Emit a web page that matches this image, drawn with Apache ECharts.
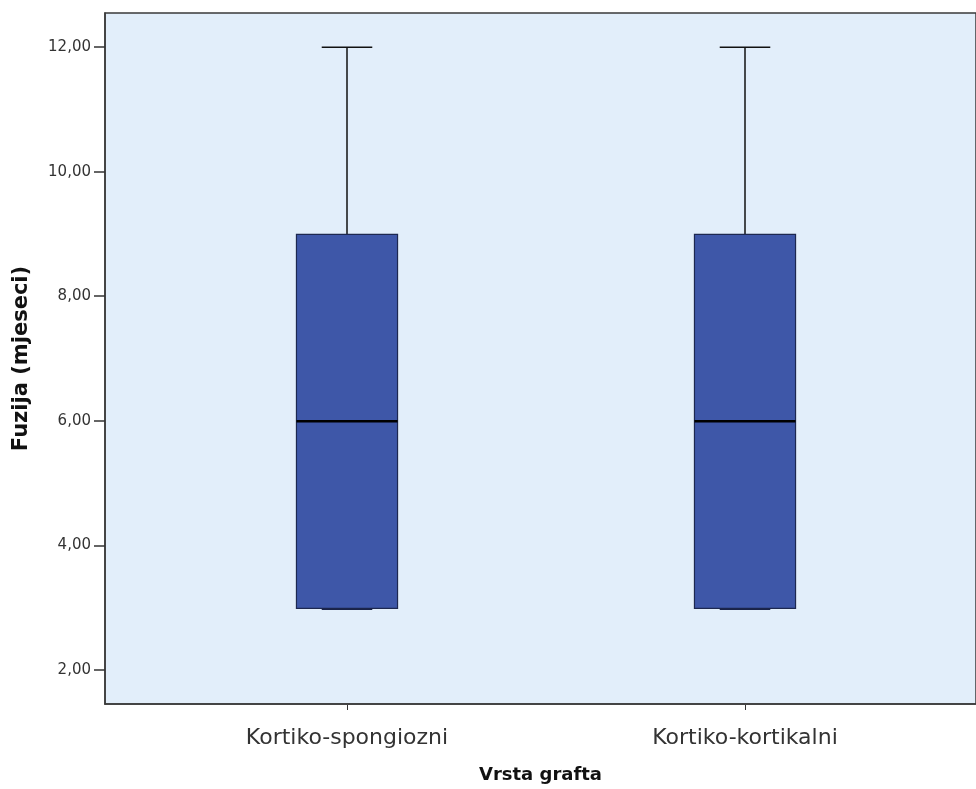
<!DOCTYPE html>
<html>
<head>
<meta charset="utf-8">
<script src="https://cdn.jsdelivr.net/npm/echarts@6/dist/echarts.min.js"></script>
<style>html,body{margin:0;padding:0;background:#fff}#c{width:976px;height:789px}</style>
</head>
<body>
<div id="c"></div>
<script>
var categories = ['Kortiko-spongiozni', 'Kortiko-kortikalni'];
// [min, Q1, median, Q3, max]
var boxStats = [
  [3, 3, 6, 9, 12],
  [3, 3, 6, 9, 12]
];
var yTicks = [2, 4, 6, 8, 10, 12];
var yMin = 1.45, yMax = 12.55;

var seriesData = boxStats.map(function (s, i) { return [i].concat(s); });

function renderBox(params, api) {
  var x = api.value(0);
  var pMin = api.coord([x, api.value(1)]);
  var pQ1 = api.coord([x, api.value(2)]);
  var pMed = api.coord([x, api.value(3)]);
  var pQ3 = api.coord([x, api.value(4)]);
  var pMax = api.coord([x, api.value(5)]);
  var band = api.size([1, 0])[0];
  var bw = band * 0.254;
  var cw = bw / 2;
  var cx = pMed[0];
  var whisk = {stroke: '#111', lineWidth: 1.5};
  return {
    type: 'group',
    children: [
      {type: 'line', shape: {x1: cx, y1: pQ3[1], x2: cx, y2: pMax[1]}, style: whisk},
      {type: 'line', shape: {x1: cx - cw / 2, y1: pMax[1], x2: cx + cw / 2, y2: pMax[1]}, style: whisk},
      {type: 'line', shape: {x1: cx, y1: pQ1[1], x2: cx, y2: pMin[1]}, style: whisk},
      {type: 'rect', shape: {x: cx - bw / 2, y: pQ3[1], width: bw, height: pQ1[1] - pQ3[1]},
       style: {fill: '#3e57a8', stroke: '#1d2850', lineWidth: 1.2}},
      {type: 'line', shape: {x1: cx - cw / 2, y1: pMin[1] + 1, x2: cx + cw / 2, y2: pMin[1] + 1}, style: {stroke: '#1a2348', lineWidth: 1.5}},
      {type: 'line', shape: {x1: cx - bw / 2, y1: pMed[1], x2: cx + bw / 2, y2: pMed[1]}, style: {stroke: '#000', lineWidth: 2.5}}
    ]
  };
}

var chart = echarts.init(document.getElementById('c'), null, {renderer: 'canvas'});
var font = '"DejaVu Sans", Verdana, sans-serif';
chart.setOption({
  animation: false,
  backgroundColor: '#ffffff',
  grid: [
    {left: 105, top: 13, right: -5, bottom: 84, show: true, backgroundColor: '#e2eefa', borderColor: '#3a3a3a', borderWidth: 1.5},
    {left: 148, top: 13, width: 796, bottom: 84, show: false}
  ],
  xAxis: [
    {gridIndex: 0, type: 'value', min: 0, max: 1, axisLabel: {show: false}, axisTick: {show: false}, splitLine: {show: false},
     axisLine: {show: true, lineStyle: {color: '#3a3a3a', width: 1.5}},
     name: 'Vrsta grafta', nameLocation: 'middle', nameGap: 62,
     nameTextStyle: {fontFamily: font, fontSize: 18, fontWeight: 'bold', color: '#111'}},
    {gridIndex: 1, type: 'category', data: categories, boundaryGap: true,
     axisLine: {show: false}, axisTick: {show: true, alignWithLabel: true, length: 5, lineStyle: {color: '#333'}},
     axisLabel: {fontFamily: font, fontSize: 22, color: '#333', margin: 22}}
  ],
  yAxis: [
    {gridIndex: 0, type: 'value', min: yMin, max: yMax,
     axisLine: {show: true, lineStyle: {color: '#3a3a3a', width: 1.5}},
     axisTick: {show: true, length: 11, inside: false, lineStyle: {color: '#333', width: 1.5}, customValues: yTicks},
     axisLabel: {fontFamily: font, fontSize: 15, color: '#333', margin: 14, customValues: yTicks,
       formatter: function (v) { return v.toFixed(2).replace('.', ','); }},
     splitLine: {show: false},
     name: 'Fuzija (mjeseci)', nameLocation: 'middle', nameGap: 73,
     nameTextStyle: {fontFamily: font, fontSize: 21, fontWeight: 'bold', color: '#111'}},
    {gridIndex: 1, type: 'value', min: yMin, max: yMax, show: false}
  ],
  series: [{
    type: 'custom',
    xAxisIndex: 1, yAxisIndex: 1,
    data: seriesData,
    renderItem: renderBox,
    encode: {x: 0, y: [1, 2, 3, 4, 5]},
    silent: true
  }]
});
</script>
</body>
</html>
